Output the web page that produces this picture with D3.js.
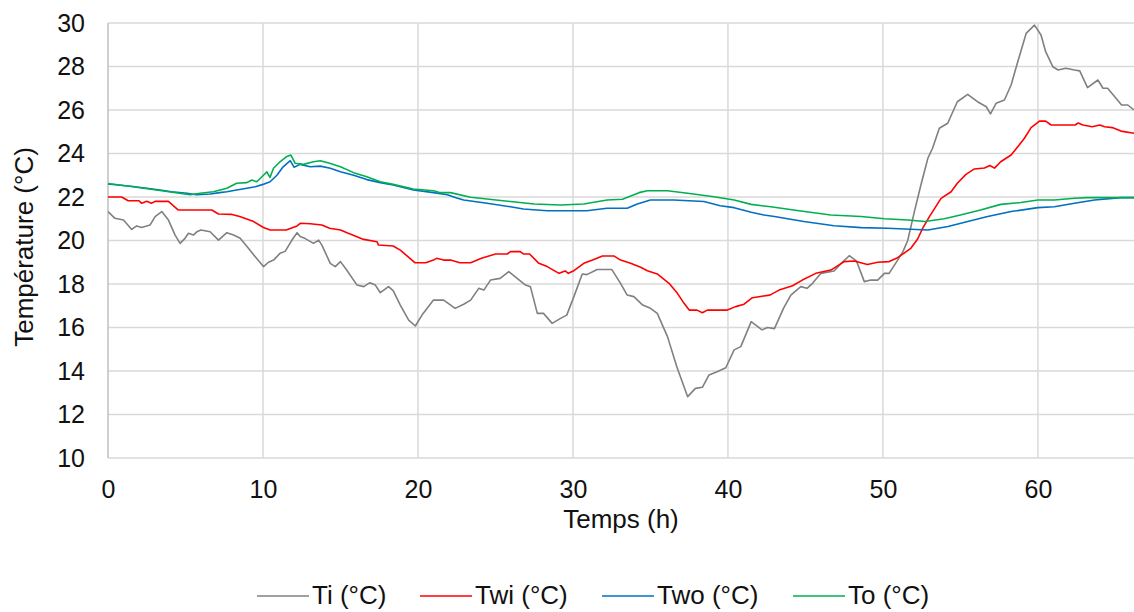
<!DOCTYPE html>
<html>
<head>
<meta charset="utf-8">
<script src="https://cdn.jsdelivr.net/npm/d3@7"></script>
<style>
  body { margin: 0; background: #fff; }
  svg text { font-family: "Liberation Sans", Arial, sans-serif; fill: #111; }
</style>
</head>
<body>
<svg id="chart"></svg>
<script>
// data (hours, °C)
var tiHours = [0,0.45,1.0,1.53,1.85,2.17,2.71,3.04,3.47,3.9,4.33,4.65,4.97,5.19,5.51,5.73,6.0,6.59,7.13,7.67,8.1,8.53,9.06,9.5,10.03,10.36,10.68,11.1,11.43,11.87,12.2,12.4,12.7,13.26,13.59,13.8,14.34,14.66,15.0,15.4,16.07,16.5,16.9,17.25,17.57,18.1,18.4,18.86,19.4,19.83,20.26,21.0,21.66,22.4,22.95,23.4,23.92,24.25,24.68,25.3,25.86,26.4,26.94,27.26,27.7,28.1,28.66,29.2,29.6,30.06,30.6,30.9,31.56,32.5,33.07,33.5,33.93,34.5,35.0,35.44,36.1,36.7,37.4,37.9,38.35,38.78,39.3,39.86,40.4,40.83,41.5,42.2,42.55,43.0,43.6,44.06,44.7,45.1,45.46,46.0,46.85,47.3,47.83,48.3,48.8,49.22,49.66,50.1,50.4,50.95,51.3,51.6,52.03,52.45,52.9,53.2,53.64,54.18,54.8,55.47,56.1,56.67,56.94,57.3,57.84,58.27,58.7,59.24,59.78,60.2,60.5,60.96,61.3,61.8,62.36,62.7,63.2,63.87,64.2,64.5,65.4,65.8,66.2];
var tiVals = [21.33,21.02,20.94,20.51,20.67,20.6,20.71,21.1,21.33,20.94,20.25,19.87,20.1,20.33,20.25,20.4,20.48,20.4,20.02,20.36,20.25,20.1,19.64,19.25,18.8,19.0,19.1,19.41,19.5,20.02,20.36,20.18,20.1,19.87,20.02,19.79,18.95,18.8,19.03,18.64,17.95,17.88,18.06,17.95,17.6,17.88,17.7,17.03,16.34,16.07,16.57,17.26,17.26,16.88,17.07,17.26,17.8,17.72,18.18,18.26,18.57,18.26,17.95,17.87,16.65,16.65,16.19,16.42,16.57,17.42,18.46,18.43,18.67,18.67,18.03,17.49,17.42,17.03,16.88,16.65,15.58,14.2,12.82,13.2,13.25,13.82,13.97,14.15,14.97,15.12,16.27,15.89,16.0,15.95,16.9,17.49,17.88,17.8,18.03,18.49,18.6,18.95,19.3,19.05,18.11,18.18,18.18,18.49,18.49,19.1,19.5,20.0,21.33,22.55,23.78,24.24,25.16,25.39,26.38,26.72,26.38,26.15,25.82,26.31,26.46,27.15,28.22,29.52,29.9,29.45,28.68,27.99,27.84,27.92,27.84,27.8,27.03,27.38,27.0,27.0,26.23,26.23,26.0];

var twiHours = [0,0.88,1.3,2.0,2.17,2.5,2.8,3.04,3.9,4.54,6.7,7.13,8.0,8.5,9.4,10.03,10.47,11.5,12.2,12.4,13.05,13.8,14.3,15.0,15.5,16.5,17.36,17.45,18.4,18.86,19.8,20.5,21.0,21.2,21.66,22.1,22.7,23.4,24.1,25.0,25.76,25.97,26.6,26.8,27.2,27.8,28.34,29.1,29.5,29.7,30.06,30.7,31.35,31.9,32.64,33.07,33.72,34.37,34.8,35.44,36.2,36.74,37.17,37.5,38.0,38.35,38.67,39.96,40.5,41.04,41.58,42.3,42.7,43.3,44.17,44.8,45.67,46.64,47.5,48.15,49.0,49.66,50.4,50.95,51.8,52.24,52.56,53.0,53.75,54.4,54.8,55.36,55.9,56.55,56.9,57.2,57.6,58.27,58.7,59.13,59.56,60.1,60.5,60.85,62.4,62.6,62.9,63.5,64.0,64.3,64.8,65.36,66.2];
var twiVals = [22.0,22.0,21.83,21.83,21.71,21.8,21.71,21.8,21.8,21.4,21.4,21.22,21.2,21.1,20.87,20.6,20.48,20.48,20.67,20.79,20.77,20.71,20.56,20.48,20.33,20.05,19.94,19.79,19.75,19.56,18.98,18.98,19.1,19.18,19.1,19.1,18.98,18.98,19.18,19.38,19.38,19.49,19.49,19.38,19.38,18.95,18.8,18.49,18.6,18.49,18.61,18.95,19.13,19.29,19.29,19.1,18.95,18.77,18.61,18.46,18.03,17.57,17.11,16.8,16.8,16.68,16.8,16.8,16.96,17.07,17.37,17.45,17.49,17.72,17.92,18.18,18.49,18.64,19.03,19.06,18.9,19.0,19.03,19.21,19.64,20.07,20.56,21.1,21.94,22.24,22.63,23.04,23.29,23.33,23.45,23.33,23.62,23.93,24.31,24.7,25.19,25.49,25.49,25.31,25.31,25.4,25.31,25.23,25.31,25.23,25.19,25.03,24.93];

var twoHours = [0,1.6,2.5,3.35,4.1,5.1,5.7,6.6,7.2,7.67,8.3,8.96,9.5,10.0,10.46,10.9,11.3,11.76,12.0,12.4,13.05,13.7,14.34,15.0,15.85,16.7,17.57,18.4,19.7,21.0,21.9,22.5,22.95,24.46,25.97,26.8,28.34,30.9,32.2,33.5,34.15,35.0,36.5,38.45,39.5,40.4,41.5,42.33,43.0,44.9,46.85,48.6,50.3,52.9,54.2,55.47,56.76,58.27,60.0,61.06,62.36,63.65,65.36,66.2];
var twoVals = [22.6,22.48,22.4,22.32,22.24,22.17,22.1,22.14,22.2,22.24,22.32,22.4,22.47,22.58,22.7,23.0,23.39,23.67,23.37,23.5,23.39,23.42,23.32,23.16,23.0,22.8,22.66,22.55,22.32,22.2,22.1,21.95,21.86,21.71,21.55,21.45,21.37,21.37,21.48,21.48,21.68,21.86,21.86,21.79,21.6,21.51,21.3,21.17,21.1,20.87,20.68,20.59,20.56,20.48,20.64,20.87,21.1,21.33,21.51,21.55,21.71,21.86,21.97,21.97];

var toHours = [0,1.5,3.35,5.3,5.94,6.8,7.67,8.3,8.96,9.28,9.6,10.03,10.25,10.45,10.68,11.1,11.5,11.8,12.08,12.6,13.26,13.7,14.3,15.0,15.85,16.7,17.57,18.4,19.7,21.0,21.45,22.1,23.4,25.97,27.5,29.2,30.7,32.2,33.2,34.26,34.8,36.1,37.4,39.1,40.4,41.5,42.76,44.7,46.64,48.6,50.1,51.6,52.7,53.96,55.0,56.3,57.6,58.9,60.0,61.06,62.36,63.2,66.2];
var toVals = [22.62,22.48,22.3,22.1,22.17,22.24,22.4,22.63,22.66,22.78,22.7,23.0,23.16,22.9,23.32,23.62,23.85,23.93,23.55,23.5,23.62,23.67,23.55,23.39,23.12,22.93,22.7,22.58,22.37,22.29,22.2,22.2,21.99,21.79,21.68,21.63,21.68,21.86,21.9,22.2,22.29,22.29,22.17,22.01,21.86,21.66,21.55,21.36,21.17,21.1,21.0,20.94,20.87,21.0,21.17,21.4,21.66,21.75,21.86,21.86,21.94,21.97,21.97];

var seriesNames = ["Ti (°C)", "Twi (°C)", "Two (°C)", "To (°C)"];
var seriesColors = ["#808080", "#ff0000", "#0070c0", "#00b050"];
var xTicks = [0, 10, 20, 30, 40, 50, 60];
var yTicks = [10, 12, 14, 16, 18, 20, 22, 24, 26, 28, 30];

var W = 1134, H = 612;
var margin = {top: 23, right: 0, bottom: 154, left: 108},
    width = W - margin.left - margin.right,
    height = H - margin.top - margin.bottom;

var svg = d3.select("#chart")
    .attr("width", W)
    .attr("height", H)

var g = svg.append("g")
    .attr("transform", "translate(" + margin.left + "," + margin.top + ")")

var x = d3.scaleLinear().domain([0, 66.2]).range([0, width]);
var y = d3.scaleLinear().domain([10, 30]).range([height, 0]);

// gridlines
g.append("g")
  .selectAll("line.h")
  .data(yTicks)
  .enter().append("line")
    .attr("x1", 0).attr("x2", width)
    .attr("y1", function(d) { return y(d); })
    .attr("y2", function(d) { return y(d); })
    .style("stroke", "#d9d9d9")
    .style("stroke-width", 1.5)
g.append("g")
  .selectAll("line.v")
  .data(xTicks)
  .enter().append("line")
    .attr("x1", function(d) { return x(d); })
    .attr("x2", function(d) { return x(d); })
    .attr("y1", 0).attr("y2", height)
    .style("stroke", function(d) { return d == 0 ? "#bfbfbf" : "#d9d9d9"; })
    .style("stroke-width", 1.5)

// axes (labels only)
var yAxis = g.append("g")
    .call(d3.axisLeft(y).tickValues(yTicks).tickSize(0).tickPadding(23))
yAxis.select(".domain").remove()
yAxis.selectAll("text").style("font-size", "25px")

var xAxis = g.append("g")
    .attr("transform", "translate(0," + height + ")")
    .call(d3.axisBottom(x).tickValues(xTicks).tickSize(0).tickPadding(22))
xAxis.select(".domain").remove()
xAxis.selectAll("text").style("font-size", "25px")

svg.append("text")
    .attr("x", 621)
    .attr("y", 528)
    .style("text-anchor", "middle")
    .style("font-size", "26px")
    .text("Temps (h)")

svg.append("text")
    .attr("transform", "translate(33,247) rotate(-90)")
    .style("text-anchor", "middle")
    .style("font-size", "26px")
    .text("Température (°C)")

// lines
g.append("clipPath").attr("id", "clip")
  .append("rect").attr("width", width).attr("height", height + 2).attr("y", -2)

var series = [
  {h: tiHours, v: tiVals},
  {h: twiHours, v: twiVals},
  {h: twoHours, v: twoVals},
  {h: toHours, v: toVals}
];

var line = d3.line()
    .x(function(d) { return x(d[0]); })
    .y(function(d) { return y(d[1]); })

// draw order: Ti, Twi, Two, To
series.forEach(function(s, i) {
  var pts = s.h.map(function(h, j) { return [h, s.v[j]]; });
  g.append("path")
    .datum(pts)
    .attr("clip-path", "url(#clip)")
    .attr("d", line)
    .style("fill", "none")
    .style("stroke", seriesColors[i])
    .style("stroke-width", 1.6)
    .style("stroke-linejoin", "round")
});

// legend
var legendX = [257, 420, 602, 793];
var legend = svg.append("g")
legend.selectAll("line")
  .data(seriesNames)
  .enter().append("line")
    .attr("x1", function(d, i) { return legendX[i]; })
    .attr("x2", function(d, i) { return legendX[i] + 52; })
    .attr("y1", 596).attr("y2", 596)
    .style("stroke", function(d, i) { return seriesColors[i]; })
    .style("stroke-width", 1.6)
legend.selectAll("text")
  .data(seriesNames)
  .enter().append("text")
    .attr("x", function(d, i) { return legendX[i] + 55; })
    .attr("y", 604)
    .style("font-size", "26px")
    .text(function(d) { return d; })
</script>
</body>
</html>
